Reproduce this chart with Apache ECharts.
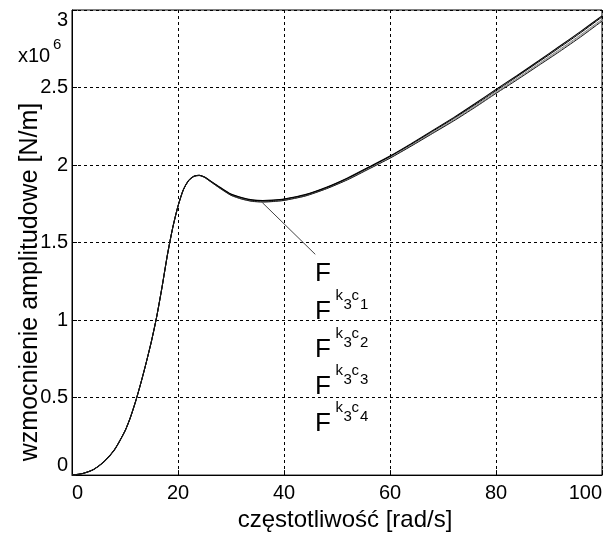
<!DOCTYPE html>
<html>
<head>
<meta charset="utf-8">
<script src="https://cdn.jsdelivr.net/npm/echarts@6/dist/echarts.min.js"></script>
<style>html,body{margin:0;padding:0;background:#fff}#c{width:605px;height:537px}</style>
</head>
<body>
<div id="c"></div>
<script>
// frequency [rad/s]
var freq = [0,2,4,6,8,10,11,12,13,14,15,16,17,18,19,20,21,22,23,24,25,26,28,30,32,34,36,38,40,44,48,52,56,60,64,68,72,76,80,84,88,92,96,100];
// amplitude gain [N/m] x 1e6
var F     = [0,0.01,0.035,0.085,0.163,0.285,0.37,0.475,0.595,0.725,0.865,1.025,1.215,1.42,1.595,1.735,1.84,1.90,1.928,1.934,1.923,1.90,1.855,1.813,1.79,1.775,1.771,1.774,1.781,1.81,1.857,1.917,1.987,2.058,2.138,2.222,2.306,2.395,2.488,2.578,2.671,2.766,2.862,2.962];
var Fk3c1 = [0,0.01,0.035,0.085,0.163,0.285,0.37,0.475,0.595,0.725,0.865,1.025,1.215,1.42,1.595,1.735,1.84,1.90,1.928,1.934,1.923,1.90,1.853,1.811,1.788,1.773,1.769,1.772,1.779,1.807,1.854,1.914,1.984,2.055,2.134,2.217,2.30,2.388,2.48,2.571,2.664,2.758,2.854,2.955];
var Fk3c2 = [0,0.01,0.035,0.085,0.163,0.285,0.37,0.475,0.595,0.725,0.865,1.025,1.215,1.42,1.595,1.735,1.84,1.90,1.927,1.933,1.921,1.897,1.849,1.806,1.782,1.767,1.763,1.766,1.773,1.802,1.849,1.908,1.978,2.048,2.127,2.209,2.291,2.379,2.471,2.56,2.652,2.745,2.84,2.94];
var Fk3c3 = [0,0.01,0.035,0.085,0.163,0.285,0.37,0.475,0.595,0.725,0.865,1.025,1.215,1.42,1.595,1.735,1.84,1.90,1.927,1.933,1.921,1.897,1.848,1.804,1.78,1.765,1.761,1.764,1.771,1.80,1.847,1.906,1.976,2.046,2.124,2.206,2.288,2.376,2.467,2.555,2.647,2.739,2.834,2.934];
var Fk3c4 = [0,0.01,0.035,0.085,0.163,0.285,0.37,0.475,0.595,0.725,0.865,1.025,1.215,1.42,1.595,1.735,1.84,1.90,1.926,1.932,1.92,1.896,1.848,1.805,1.781,1.766,1.762,1.765,1.772,1.80,1.847,1.905,1.974,2.044,2.122,2.203,2.284,2.371,2.462,2.55,2.641,2.732,2.827,2.928];
var seriesNames = ['F','Fk3c1','Fk3c2','Fk3c3','Fk3c4'];
var seriesData = [F, Fk3c1, Fk3c2, Fk3c3, Fk3c4];
var seriesColors = ['#000000','#000000','#808080','#a8a8a8','#1a1a1a'];
// annotation labels: superscript index for each label ('' = plain F)
var labelIdx = ['', '1', '2', '3', '4'];
var xTicks = [0,20,40,60,80,100];
var yTicks = [0,0.5,1,1.5,2,2.5,3];
var xName = 'częstotliwość [rad/s]';
var yName = 'wzmocnienie amplitudowe [N/m]';

function pairs(ys){ return freq.map(function(x,i){ return [x, ys[i]]; }); }

var FONT = '"Liberation Sans", Arial, sans-serif';
var chart = echarts.init(document.getElementById('c'), null, {renderer:'canvas'});

var series = seriesData.map(function(d, i){
  return {
    name: seriesNames[i], type:'line', data: pairs(d), showSymbol:false, smooth:0.2,
    lineStyle:{color: seriesColors[i], width: (i===0?1.1:1)},
    z: (seriesColors[i]==='#000000' || seriesColors[i]==='#1a1a1a') ? 3 : 2,
    silent:true
  };
});
series[0].markLine = {
  silent:true, symbol:['none','none'], label:{show:false},
  lineStyle:{color:'#444', width:1, type:'solid'},
  data:[[{coord:[35.9,1.758]},{coord:[45.9,1.424]}]]
};

// annotation text graphics
var graphics = [];
var baselines = [283, 321, 359, 396, 433];
var x0 = 315;
function addText(txt, x, baseline, fs){
  graphics.push({type:'text', x:x, y: baseline - 0.3465*fs, silent:true,
    style:{text:txt, fontSize:fs, fontFamily:FONT, fill:'#000', align:'left', verticalAlign:'middle'}});
}
labelIdx.forEach(function(s, i){
  var b = baselines[i];
  addText('F', x0, b, 26);
  if (s) {
    addText('k', x0+20.5, b-20, 15);
    addText('3', x0+28.5, b-11, 15);
    addText('c', x0+36.5, b-20, 15);
    addText(s, x0+45, b-11, 15);
  }
});
addText('x10', 18, 63, 20);
addText('6', 53, 50, 15);
graphics.push({type:'text', x:30, y:282, rotation:Math.PI/2, silent:true,
  style:{text:yName, fontSize:25, fontFamily:FONT, fill:'#000', align:'center', verticalAlign:'middle'}});

chart.setOption({
  animation:false,
  backgroundColor:'#fff',
  grid:{left:72, right:2, top:10, bottom:51, show:true, borderColor:'#000', borderWidth:1, backgroundColor:'transparent'},
  xAxis:{
    type:'value', min:0, max:100, interval:20,
    name:xName, nameLocation:'middle', nameGap:20,
    nameTextStyle:{fontSize:24, fontFamily:FONT, color:'#000', padding:[0,0,0,16]},
    axisLine:{show:true, lineStyle:{color:'#000', width:1}},
    axisTick:{show:true, inside:true, length:5, lineStyle:{color:'#000'}},
    axisLabel:{fontSize:20, fontFamily:FONT, color:'#000', margin:8, alignMinLabel:'left', alignMaxLabel:'right',
      formatter:function(v){ return xTicks.indexOf(v)>=0 ? String(v) : ''; }},
    splitLine:{show:true, lineStyle:{color:'#000', width:1, type:[3,3]}}
  },
  yAxis:{
    type:'value', min:0, max:3, interval:0.5,
    axisLine:{show:true, lineStyle:{color:'#000', width:1}},
    axisTick:{show:true, inside:true, length:5, lineStyle:{color:'#000'}},
    axisLabel:{fontSize:20, fontFamily:FONT, color:'#000', margin:4, verticalAlignMinLabel:'bottom', verticalAlignMaxLabel:'top',
      formatter:function(v){ return yTicks.indexOf(v)>=0 ? String(v) : ''; }},
    splitLine:{show:true, lineStyle:{color:'#000', width:1, type:[3,3]}}
  },
  series: series,
  graphic: graphics
});
</script>
</body>
</html>
